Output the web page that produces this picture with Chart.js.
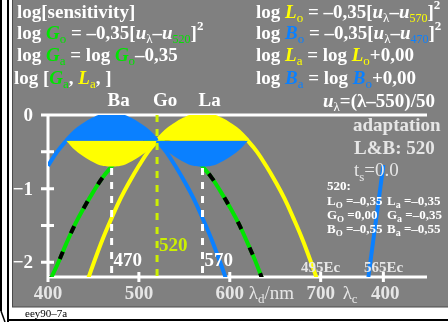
<!DOCTYPE html>
<html>
<head>
<meta charset="utf-8">
<script src="https://cdn.jsdelivr.net/npm/chart.js@4/dist/chart.umd.min.js"></script>
<style>
html, body { margin: 0; padding: 0; background: #fff; }
canvas { display: block; }
</style>
</head>
<body>
<canvas id="sens" width="448" height="322"></canvas>
<script>
// log sensitivity curves (wavelength in nm)
const lambdaB = [400, 410, 420, 430, 440, 450, 460, 470, 480, 490, 500, 510, 520, 530, 540, 550, 560, 570, 580, 590, 600];
const logB = [-0.69, -0.50, -0.35, -0.22, -0.13, -0.06, -0.01, 0, -0.01, -0.06, -0.13, -0.22, -0.35, -0.50, -0.69, -0.90, -1.13, -1.40, -1.69, -2.02, -2.37];

const lambdaL = [440, 450, 460, 470, 480, 490, 500, 510, 520, 530, 540, 550, 560, 570, 580, 590, 600, 610, 620, 630, 640, 650, 660, 670, 680, 690, 700];
const logL = [-2.37, -2.02, -1.69, -1.40, -1.13, -0.90, -0.69, -0.50, -0.35, -0.22, -0.13, -0.06, -0.01, 0, -0.01, -0.06, -0.13, -0.22, -0.35, -0.50, -0.69, -0.90, -1.13, -1.40, -1.69, -2.02, -2.37];

const lambdaG = [400, 410, 420, 430, 440, 450, 460, 470, 480, 490, 500, 510, 520, 530, 540, 550, 560, 570, 580, 590, 600, 610, 620, 630, 640];
const logGa = [-2.30, -2.04, -1.75, -1.48, -1.25, -1.04, -0.85, -0.70, -0.57, -0.48, -0.41, -0.36, -0.35, -0.36, -0.41, -0.48, -0.57, -0.70, -0.85, -1.04, -1.25, -1.48, -1.75, -2.04, -2.37];

// the two lens shapes around Ba (470) and La (570)
const lambdaBa = [420, 430, 440, 450, 460, 470, 480, 490, 500, 510, 520];
const lambdaLa = [520, 530, 540, 550, 560, 570, 580, 590, 600, 610, 620];
const lensTop = [-0.35, -0.22, -0.13, -0.06, -0.01, 0, -0.01, -0.06, -0.13, -0.22, -0.35];
const lensBottom = [-0.35, -0.48, -0.57, -0.64, -0.69, -0.70, -0.69, -0.64, -0.57, -0.48, -0.35];
const lensBase = -0.35;

// short blue stroke in the complementary (lambda_c) part
const lambdaBc = [769, 752.5];
const logBc = [-0.68, -2.2];

// dashed marker lines
const markLambda = [470, 520, 570];
const markTop = [-0.72, 0, -0.72];
const markBottom = -2.2;

const yTicks = [0, -0.5, -1, -1.5, -2];
const yTickLabels = ['0', '\u22121', '\u22122'];
const xTicks = [400, 500, 600, 700, 769];

const WHITE = '#ffffff', SOFT = '#e6e6e6', GREEN = '#00e400', YEL = '#ffff00', BLUE = '#0a80ff', LIME = '#ccf000';
const SERIF = '"Liberation Serif", "DejaVu Serif", serif';

const pts = (xs, ys) => xs.map((x, i) => ({ x: x, y: ys[i] }));

function rich(ctx, x, y, parts) {
  parts.forEach(p => {
    const [txt, col, size, style, dy] = p;
    ctx.font = `${style || 'bold'} ${size || 19}px ${SERIF}`;
    ctx.fillStyle = col || WHITE;
    ctx.fillText(txt, x, y + (dy || 0));
    x += ctx.measureText(txt).width;
  });
}
const it = (t, c) => [t, c, 19, 'italic bold'];
const sub = (t, c, s) => [t, c, s || 13, 'normal', 4];
const sup = t => [t, WHITE, 13, 'bold', -9];

const backdrop = {
  id: 'backdrop',
  beforeDraw(chart) {
    const ctx = chart.ctx;
    ctx.save();
    ctx.fillStyle = '#fff';
    ctx.fillRect(0, 0, 448, 322);
    ctx.fillStyle = '#808080';
    ctx.fillRect(12, 0, 436, 307);
    ctx.strokeStyle = '#4a4a4a';
    ctx.lineWidth = 1;
    ctx.strokeRect(12.5, -1, 437, 308);
    ctx.fillStyle = '#000';
    ctx.fillRect(0, 0, 2, 311);
    ctx.fillRect(7, 0, 2, 322);
    ctx.fillRect(7, 319, 441, 2);
    ctx.beginPath();
    ctx.moveTo(1, 311);
    ctx.lineTo(5, 322);
    ctx.lineWidth = 1.5;
    ctx.strokeStyle = '#000';
    ctx.stroke();
    ctx.font = `11px ${SERIF}`;
    ctx.fillText('eey90\u20137a', 25, 317);
    ctx.restore();
  }
};

const axes = {
  id: 'axes',
  beforeDatasetsDraw(chart) {
    const { ctx, chartArea: a, scales: { x, y } } = chart;
    ctx.save();
    ctx.strokeStyle = WHITE;
    ctx.lineWidth = 3;
    ctx.beginPath();
    ctx.moveTo(a.left, y.getPixelForValue(0));
    ctx.lineTo(a.right, y.getPixelForValue(0));
    ctx.moveTo(a.left, a.top);
    ctx.lineTo(a.left, a.bottom);
    ctx.moveTo(a.left, a.bottom);
    ctx.lineTo(a.right, a.bottom);
    yTicks.forEach(v => {
      const py = y.getPixelForValue(v);
      ctx.moveTo(a.left - 7, py);
      ctx.lineTo(a.left + 6, py);
    });
    xTicks.forEach(v => {
      const px = x.getPixelForValue(v);
      ctx.moveTo(px, a.bottom - 5);
      ctx.lineTo(px, a.bottom + 5);
    });
    ctx.stroke();
    ctx.restore();
  }
};

const texts = {
  id: 'texts',
  afterDraw(chart) {
    const { ctx, chartArea: a, scales: { x, y } } = chart;
    ctx.save();
    ctx.textBaseline = 'alphabetic';
    ctx.textAlign = 'left';

    // formulas, left column
    rich(ctx, 17, 18, [['log[sensitivity]']]);
    rich(ctx, 17, 39, [['log '], it('G', GREEN), sub('o', GREEN), [' = \u20130,35['], it('u'), sub('\u03bb'), ['\u2013'], it('u'), sub('520', GREEN, 12), [']'], sup('2')]);
    rich(ctx, 17, 61, [['log '], it('G', GREEN), sub('a', GREEN), [' = log '], it('G', GREEN), sub('o', GREEN), ['\u20130,35']]);
    rich(ctx, 14, 84, [['log ['], it('G', GREEN), sub('a', GREEN), [', '], it('L', YEL), sub('a', YEL), [', ]']]);

    // formulas, right column
    rich(ctx, 256, 18, [['log '], it('L', YEL), sub('o', YEL), [' = \u20130,35['], it('u'), sub('\u03bb'), ['\u2013'], it('u'), sub('570', YEL, 12), [']'], sup('2')]);
    rich(ctx, 256, 39, [['log '], it('B', BLUE), sub('o', BLUE), [' = \u20130,35['], it('u'), sub('\u03bb'), ['\u2013'], it('u'), sub('470', BLUE, 12), [']'], sup('2')]);
    rich(ctx, 256, 61, [['log '], it('L', YEL), sub('a', YEL), [' = log '], it('L', YEL), sub('o', YEL), ['+0,00']]);
    rich(ctx, 256, 84, [['log '], it('B', BLUE), sub('a', BLUE), [' = log '], it('B', BLUE), sub('o', BLUE), ['+0,00']]);
    rich(ctx, 323, 107, [it('u'), sub('\u03bb'), ['=(\u03bb\u2013550)/50']]);

    // curve names above the plot
    ['Ba', 'Go', 'La'].forEach((t, i) => {
      rich(ctx, x.getPixelForValue(markLambda[i]) - 4, 106, [[t]]);
    });

    // y tick labels
    ctx.textAlign = 'right';
    ctx.textBaseline = 'middle';
    ctx.font = `bold 19px ${SERIF}`;
    ctx.fillStyle = WHITE;
    [0, -1, -2].forEach((v, i) => ctx.fillText(yTickLabels[i], 33, y.getPixelForValue(v) + 1));

    // x tick labels
    ctx.textAlign = 'center';
    ctx.textBaseline = 'alphabetic';
    ctx.fillStyle = SOFT;
    [400, 500, 600, 700].forEach(v => ctx.fillText(String(v), x.getPixelForValue(v), 299));
    ctx.fillText('400', x.getPixelForValue(769) + 2, 299);
    ctx.textAlign = 'left';
    rich(ctx, x.getPixelForValue(600) + 19, 299, [['\u03bb', SOFT, 19, 'normal'], ['d', SOFT, 13, 'normal', 4], ['/nm', SOFT, 19, 'normal']]);
    rich(ctx, x.getPixelForValue(700) + 22, 299, [['\u03bb', SOFT, 19, 'normal'], ['c', SOFT, 13, 'normal', 4]]);
    rich(ctx, 301, 272, [['495Ec', SOFT, 15]]);
    rich(ctx, 364, 272, [['565Ec', SOFT, 15]]);

    // wavelength marks
    rich(ctx, x.getPixelForValue(470) + 2, 266, [['470']]);
    rich(ctx, x.getPixelForValue(520) + 2, 251, [['520', LIME]]);
    rich(ctx, x.getPixelForValue(570) + 2, 266, [['570']]);

    // adaptation block
    rich(ctx, 353, 131, [['adaptation', SOFT]]);
    rich(ctx, 354, 154, [['L&B: 520', SOFT]]);
    rich(ctx, 354, 176, [['t', SOFT, 19, 'normal'], ['s', SOFT, 13, 'normal', 5], ['=0.0', SOFT, 19, 'normal']]);

    rich(ctx, 327, 190, [['520:', WHITE, 13]]);
    const rows = [['L', '\u20130,35', '\u20130,35'], ['G', '0,00', '\u20130,35'], ['B', '\u20130,55', '\u20130,55']];
    rows.forEach((r, i) => {
      const by = 205 + i * 14;
      rich(ctx, 327, by, [[r[0], WHITE, 13], ['O', WHITE, 9, 'bold', 3], [' =' + r[1], WHITE, 13]]);
      rich(ctx, 387, by, [[r[0], WHITE, 13], ['a', WHITE, 10, 'bold', 3], [' =' + r[2], WHITE, 13]]);
    });
    ctx.restore();
  }
};

const line = (data, color, extra) => Object.assign({
  data: data,
  borderColor: color,
  backgroundColor: color,
  borderWidth: 4,
  pointRadius: 0,
  tension: 0.4,
  fill: false
}, extra || {});

const markSets = markLambda.map((lam, i) => line(
  [{ x: lam, y: markTop[i] }, { x: lam, y: markBottom }],
  i === 1 ? LIME : WHITE,
  { borderWidth: 3, borderDash: [7, 7], tension: 0, order: 1 }
));

new Chart(document.getElementById('sens'), {
  type: 'line',
  data: {
    datasets: [
      ...markSets,
      line(pts(lambdaBa, lensTop), BLUE, { fill: { value: lensBase }, borderWidth: 0, order: 2 }),
      line(pts(lambdaBa, lensBottom), YEL, { fill: { value: lensBase }, borderWidth: 0, order: 2 }),
      line(pts(lambdaLa, lensTop), YEL, { fill: { value: lensBase }, borderWidth: 0, order: 2 }),
      line(pts(lambdaLa, lensBottom), BLUE, { fill: { value: lensBase }, borderWidth: 0, order: 2 }),
      line(pts(lambdaB, logB), BLUE, { order: 3 }),
      line(pts(lambdaL, logL), YEL, { order: 3 }),
      line(pts(lambdaBc, logBc), BLUE, { tension: 0, order: 3 }),
      line(pts(lambdaG, logGa), '#000', { borderDash: [8, 20], order: 4 }),
      line(pts(lambdaG, logGa), GREEN, { order: 5 })
    ]
  },
  options: {
    responsive: false,
    animation: false,
    events: [],
    layout: { padding: { left: 48, right: 21, top: 115, bottom: 45 } },
    scales: {
      x: { type: 'linear', min: 400, max: 817, display: false },
      y: { type: 'linear', min: -2.2, max: 0, display: false }
    },
    plugins: { legend: { display: false }, tooltip: { enabled: false } }
  },
  plugins: [backdrop, axes, texts]
});
</script>
</body>
</html>
